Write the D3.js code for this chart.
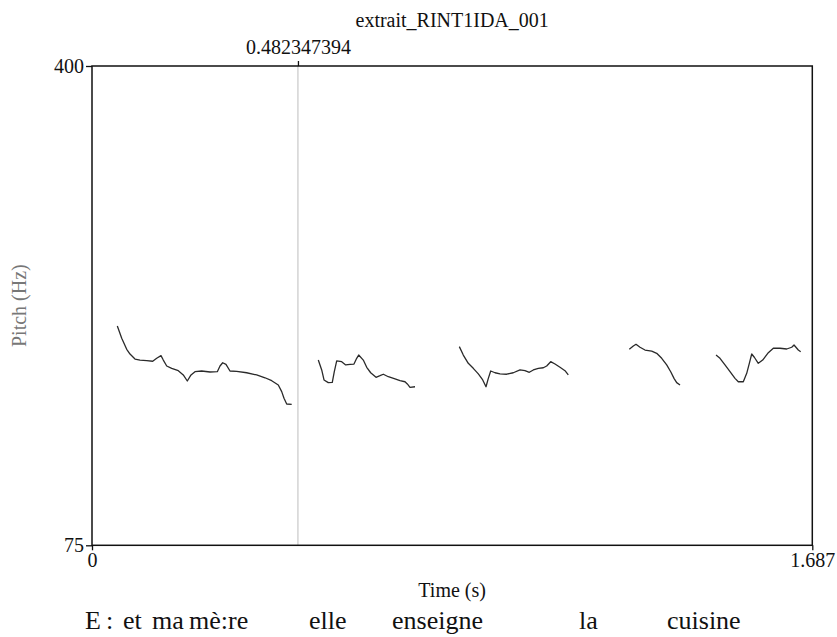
<!DOCTYPE html>
<html>
<head>
<meta charset="utf-8">
<script src="https://cdn.jsdelivr.net/npm/d3@7"></script>
<style>
  html, body { margin: 0; padding: 0; background: #fff; }
  svg { display: block; }
  text { font-family: "Liberation Serif", "Times New Roman", serif; }
</style>
</head>
<body>
<svg id="chart" width="837" height="637"></svg>
<script>
// ---- data ----
const title = "extrait_RINT1IDA_001";
const xDomain = [0, 1.687];
const yDomain = [75, 400];
const xTickLabels = ["0", "1.687"];
const yTickLabels = ["75", "400"];
const cursorTime = 0.482347394;
const cursorLabel = "0.482347394";
const xTitle = "Time (s)";
const yTitle = "Pitch (Hz)";
const transcriptWords = ["E", ":", "et", "ma", "mè:re", "elle", "enseigne", "la", "cuisine"];

const seg1Time = [0.0593,0.0696,0.0813,0.0890,0.1007,0.1124,0.1281,0.1422,0.1515,0.1616,0.1670,0.1750,0.1867,0.2021,0.2138,0.2232,0.2319,0.2412,0.2569,0.2764,0.2935,0.2998,0.3061,0.3138,0.3232,0.3389,0.3623,0.3857,0.4052,0.4209,0.4363,0.4443,0.4497,0.4560,0.4677];
const seg1Hz   = [223.7,215.4,207.9,204.7,201.3,200.6,200.2,199.8,201.8,203.6,200.6,196.6,195.0,193.4,190.5,186.4,190.5,192.7,193.2,192.5,192.7,196.6,198.8,197.7,193.2,193.0,192.0,190.5,188.6,186.6,183.7,179.2,174.7,170.8,170.6];

const seg2Time = [0.5300,0.5380,0.5434,0.5534,0.5628,0.5675,0.5731,0.5848,0.5942,0.6043,0.6136,0.6199,0.6246,0.6354,0.6434,0.6527,0.6652,0.6745,0.6823,0.6940,0.7097,0.7214,0.7331,0.7385,0.7448,0.7565];
const seg2Hz   = [200.6,193.9,187.1,185.3,185.5,192.7,200.0,199.5,197.3,197.7,197.9,201.8,204.0,200.6,195.7,192.0,188.9,190.0,191.0,189.3,187.8,186.6,185.9,184.4,182.1,182.5];

const seg3Time = [0.8603,0.8696,0.8813,0.8930,0.9048,0.9151,0.9228,0.9282,0.9338,0.9439,0.9556,0.9713,0.9867,1.0024,1.0141,1.0242,1.0336,1.0453,1.0570,1.0649,1.0743,1.0844,1.0961,1.1078,1.1155];
const seg3Hz   = [209.7,204.0,198.4,195.0,191.2,187.1,182.5,188.2,193.2,192.0,191.2,191.0,192.0,193.9,193.4,192.3,193.9,195.0,195.4,196.6,199.5,197.9,195.7,193.4,190.5];

const seg4Time = [1.2584,1.2678,1.2741,1.2835,1.2952,1.3109,1.3226,1.3343,1.3460,1.3554,1.3631,1.3694,1.3772];
const seg4Hz   = [207.9,210.1,211.3,209.3,207.4,206.7,205.2,201.8,197.3,192.7,188.2,185.3,183.7];

const seg5Time = [1.4615,1.4708,1.4825,1.4943,1.5060,1.5137,1.5254,1.5334,1.5395,1.5451,1.5512,1.5605,1.5708,1.5840,1.5957,1.6114,1.6271,1.6388,1.6442,1.6542,1.6598];
const seg5Hz   = [204.0,201.8,197.3,192.7,188.2,185.9,185.9,191.6,198.4,204.7,202.5,198.4,200.6,205.6,208.6,208.6,208.1,209.3,210.8,207.4,206.3];

const segments = [
  [seg1Time, seg1Hz], [seg2Time, seg2Hz], [seg3Time, seg3Hz], [seg4Time, seg4Hz], [seg5Time, seg5Hz]
].map(([t, f]) => t.map((v, i) => ({ t: v, f: f[i] })));

// ---- layout ----
const L = 92, R = 812.3, T = 66, B = 545.3;
const svg = d3.select("#chart");
const x = d3.scaleLinear().domain(xDomain).range([L, R]);
const y = d3.scaleLinear().domain(yDomain).range([B, T]);

// cursor line
svg.append("line")
  .attr("x1", x(cursorTime)).attr("x2", x(cursorTime))
  .attr("y1", T).attr("y2", B)
  .attr("stroke", "#bdbdbd").attr("stroke-width", 1);

// pitch curves
const line = d3.line().x(d => x(d.t)).y(d => y(d.f)).curve(d3.curveLinear);
svg.append("g").selectAll("path").data(segments).join("path")
  .attr("d", line)
  .attr("fill", "none")
  .attr("stroke", "#2a2a2a")
  .attr("stroke-width", 1.3)
  .attr("stroke-linejoin", "round");

// frame
svg.append("rect")
  .attr("x", L).attr("y", T).attr("width", R - L).attr("height", B - T)
  .attr("fill", "none").attr("stroke", "#111").attr("stroke-width", 1.5);

// axes via d3
const fs = 20;
const leftAxis = d3.axisLeft(y).tickValues(yTickLabels.map(Number)).tickSize(6).tickPadding(2).tickFormat(d3.format("d"));
const gL = svg.append("g").attr("transform", `translate(${L},0)`).call(leftAxis);
const bottomAxis = d3.axisBottom(x).tickValues(xDomain).tickSize(5).tickPadding(3)
  .tickFormat((d, i) => xTickLabels[i]);
const gB = svg.append("g").attr("transform", `translate(0,${B})`).call(bottomAxis);
const topAxis = d3.axisTop(x).tickValues([cursorTime]).tickSize(5).tickPadding(7).tickFormat(() => cursorLabel);
const gT = svg.append("g").attr("transform", `translate(0,${T})`).call(topAxis);

[gL, gB, gT].forEach(g => {
  g.select(".domain").remove();
  g.selectAll(".tick line").attr("stroke", "#111").attr("stroke-width", 1.3);
  g.selectAll(".tick text").attr("fill", "#111")
    .style("font-family", '"Liberation Serif", "Times New Roman", serif')
    .style("font-size", fs + "px");
});

// title
svg.append("text").attr("x", (L + R) / 2).attr("y", 27)
  .attr("text-anchor", "middle").attr("font-size", fs).attr("fill", "#111")
  .text(title);

// x title
svg.append("text").attr("x", (L + R) / 2).attr("y", 597)
  .attr("text-anchor", "middle").attr("font-size", fs).attr("fill", "#111")
  .text(xTitle);

// y title
svg.append("text")
  .attr("transform", `translate(26,${(T + B) / 2}) rotate(-90)`)
  .attr("text-anchor", "middle").attr("font-size", fs).attr("fill", "#777")
  .text(yTitle);

// transcription
const wordX = [85, 106, 123, 152, 189, 309, 392, 579, 667];
svg.append("g").selectAll("text").data(transcriptWords).join("text")
  .attr("x", (d, i) => wordX[i]).attr("y", 629)
  .attr("font-size", 26).attr("fill", "#111")
  .text(d => d);
</script>
</body>
</html>
